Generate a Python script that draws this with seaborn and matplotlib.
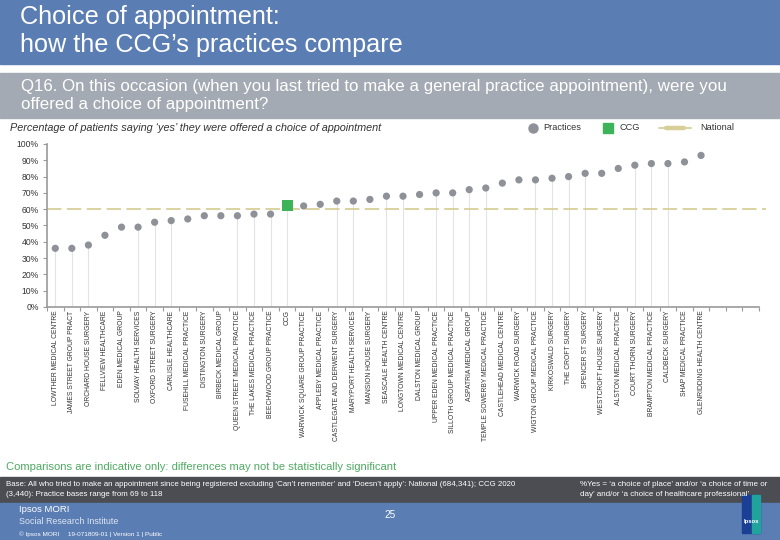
import numpy as np
import pandas as pd
import matplotlib
matplotlib.use("Agg")
import matplotlib.pyplot as plt
from matplotlib.lines import Line2D
from matplotlib.patches import Rectangle
import seaborn as sns

# ---------------- data ----------------
names = [
    "LOWTHER MEDICAL CENTRE", "JAMES STREET GROUP PRACT", "ORCHARD HOUSE SURGERY",
    "FELLVIEW HEALTHCARE", "EDEN MEDICAL GROUP", "SOLWAY HEALTH SERVICES",
    "OXFORD STREET SURGERY", "CARLISLE HEALTHCARE", "FUSEHILL MEDICAL PRACTICE",
    "DISTINGTON SURGERY", "BIRBECK MEDICAL GROUP", "QUEEN STREET MEDICAL PRACTICE",
    "THE LAKES MEDICAL PRACTICE", "BEECHWOOD GROUP PRACTICE", "CCG",
    "WARWICK SQUARE GROUP PRACTICE", "APPLEBY MEDICAL PRACTICE",
    "CASTLEGATE AND DERWENT SURGERY", "MARYPORT HEALTH SERVICES",
    "MANSION HOUSE SURGERY", "SEASCALE HEALTH CENTRE", "LONGTOWN MEDICAL CENTRE",
    "DALSTON MEDICAL GROUP", "UPPER EDEN MEDICAL PRACTICE",
    "SILLOTH GROUP MEDICAL PRACTICE", "ASPATRIA MEDICAL GROUP",
    "TEMPLE SOWERBY MEDICAL PRACTICE", "CASTLEHEAD MEDICAL CENTRE",
    "WARWICK ROAD SURGERY", "WIGTON GROUP MEDICAL PRACTICE", "KIRKOSWALD SURGERY",
    "THE CROFT SURGERY", "SPENCER ST SURGERY", "WESTCROFT HOUSE SURGERY",
    "ALSTON MEDICAL PRACTICE", "COURT THORN SURGERY", "BRAMPTON MEDICAL PRACTICE",
    "CALDBECK SURGERY", "SHAP MEDICAL PRACTICE", "GLENRIDDING HEALTH CENTRE",
]
values = [36, 36, 38, 44, 49, 49, 52, 53, 54, 56, 56, 56, 57, 57, 62,
          62, 63, 65, 65, 66, 68, 68, 69, 70, 70, 72, 73, 76, 78, 78, 79,
          80, 82, 82, 85, 87, 88, 88, 89, 93]
ccg_label = "CCG"
national = 60
empty_slots = 3
show_stem = [1, 1, 1, 0, 0, 1, 1, 1, 0, 0, 0, 1, 1, 1, 1,
             0, 0, 1, 1, 0, 1, 1, 0, 1, 1, 1, 1, 0, 0, 1, 1,
             1, 1, 0, 0, 1, 1, 1, 0, 0]
y_ticks = [0, 10, 20, 30, 40, 50, 60, 70, 80, 90, 100]
legend_labels = ["Practices", "CCG", "National"]

df = pd.DataFrame({"name": names, "value": values})
df["pos"] = np.arange(len(df))
df["group"] = np.where(df["name"] == ccg_label, "CCG", "Practices")

# ---------------- styling ----------------
sns.set_theme(style="white")
plt.rcParams["font.family"] = ["Liberation Sans", "DejaVu Sans"]

BLUE = "#5a7db4"
GREYBAND = "#a4aab4"
DARKBAND = "#4b4d52"
PT = "#8e9197"
GREEN = "#3db35a"
NAT = "#d8cf98"
TXT = "#333333"

fig = plt.figure(figsize=(7.8, 5.4), dpi=100)
W, H = 780, 540

def fx(px):
    return px / W

def fy(py):
    return 1 - py / H

# header bands
fig.patches.append(Rectangle((0, fy(64)), 1, 64 / H, transform=fig.transFigure,
                             color=BLUE, zorder=0))
fig.patches.append(Rectangle((0, fy(118)), 1, 45 / H, transform=fig.transFigure,
                             color=GREYBAND, zorder=0))
fig.text(fx(20), fy(17), "Choice of appointment:", color="white", fontsize=18.2,
         va="center", ha="left")
fig.text(fx(20), fy(45), "how the CCG\u2019s practices compare", color="white",
         fontsize=18.2, va="center", ha="left")
fig.text(fx(21), fy(87), "Q16. On this occasion (when you last tried to make a general "
         "practice appointment), were you", color="white", fontsize=12.2,
         va="center", ha="left")
fig.text(fx(21), fy(105), "offered a choice of appointment?", color="white",
         fontsize=12.2, va="center", ha="left")
fig.text(fx(10), fy(128), "Percentage of patients saying \u2018yes\u2019 they were offered "
         "a choice of appointment", color=TXT, fontsize=7.8, style="italic",
         va="center", ha="left")

# ---------------- plot ----------------
ax = fig.add_axes([fx(47), fy(307), fx(759) - fx(47), (307 - 144) / H])
ax.set_facecolor("none")

stems = df[np.array(show_stem, dtype=bool)]
ax.vlines(stems["pos"], 0, stems["value"], color="#e3e3e3", lw=0.8, zorder=1)
ax.axhline(national, color=NAT, lw=1.3, ls=(0, (8, 3)), zorder=2, clip_on=False,
           xmax=1.01)

sns.scatterplot(data=df, x="pos", y="value", hue="group", style="group",
                size="group",
                palette={"Practices": PT, "CCG": GREEN},
                markers={"Practices": "o", "CCG": "s"},
                sizes={"Practices": 27, "CCG": 62},
                linewidth=0, legend=False, ax=ax, zorder=3)

ax.set_xlim(-0.5, len(df) - 0.5 + empty_slots)
ax.set_ylim(0, 100)
ax.set_yticks(y_ticks)
ax.set_yticklabels([f"{v}%" for v in y_ticks], fontsize=6.2, color=TXT)
ax.set_xticks(df["pos"])
ax.set_xticklabels(df["name"], rotation=90, fontsize=4.9, color=TXT,
                   va="top", ha="center")
ax.set_xticks(np.arange(-0.5, len(df) + empty_slots, 1), minor=True)
ax.tick_params(axis="x", which="major", length=0, pad=2.5)
ax.tick_params(axis="x", which="minor", length=3, width=0.8, color="#9a9a9a",
               direction="out", bottom=True)
ax.tick_params(axis="y", length=3, width=0.8, color="#9a9a9a", direction="out",
               left=True, pad=3)
ax.set_xlabel("")
ax.set_ylabel("")
for s in ["top", "right"]:
    ax.spines[s].set_visible(False)
for s in ["left", "bottom"]:
    ax.spines[s].set_color("#9a9a9a")
    ax.spines[s].set_linewidth(1.2)
ax.grid(False)

# legend (placed by hand)
ly = fy(128)
fig.add_artist(Line2D([fx(533)], [ly], marker="o", ls="", color=PT, markersize=6.5,
                      transform=fig.transFigure))
fig.text(fx(543), ly, legend_labels[0], color=TXT, fontsize=6.6, va="center")
fig.add_artist(Line2D([fx(608)], [ly], marker="s", ls="", color=GREEN, markersize=6.5,
                      transform=fig.transFigure))
fig.text(fx(620), ly, legend_labels[1], color=TXT, fontsize=6.6, va="center")
fig.add_artist(Line2D([fx(659), fx(691)], [ly, ly], color=NAT, lw=1.3,
                      transform=fig.transFigure))
fig.add_artist(Line2D([fx(666), fx(684)], [ly, ly], color=NAT, lw=3.2,
                      transform=fig.transFigure))
fig.text(fx(700), ly, legend_labels[2], color=TXT, fontsize=6.6, va="center")

# ---------------- footer ----------------
fig.text(fx(6), fy(467), "Comparisons are indicative only: differences may not be "
         "statistically significant", color="#4faa62", fontsize=8.1,
         va="center", ha="left")
fig.patches.append(Rectangle((0, fy(503)), 1, 26 / H, transform=fig.transFigure,
                             color=DARKBAND, zorder=0))
fig.patches.append(Rectangle((0, 0), 1, 37 / H, transform=fig.transFigure,
                             color=BLUE, zorder=0))
fig.text(fx(6), fy(484), "Base: All who tried to make an appointment since being registered "
         "excluding \u2018Can\u2019t remember\u2019 and \u2018Doesn\u2019t apply\u2019: "
         "National (684,341); CCG 2020", color="white", fontsize=5.7,
         va="center", ha="left")
fig.text(fx(6), fy(495), "(3,440): Practice bases range from 69 to 118", color="white",
         fontsize=5.7, va="center", ha="left")
fig.text(fx(580), fy(484), "%Yes = \u2018a choice of place\u2019 and/or \u2018a choice of "
         "time or", color="white", fontsize=5.8, va="center", ha="left")
fig.text(fx(580), fy(495), "day\u2019 and/or \u2018a choice of healthcare professional\u2019",
         color="white", fontsize=5.8, va="center", ha="left")
fig.text(fx(19), fy(510), "Ipsos MORI", color="white", fontsize=6.8,
         va="center", ha="left")
fig.text(fx(19), fy(522), "Social Research Institute", color="#dfe6f1", fontsize=6.4,
         va="center", ha="left")
fig.text(fx(19), fy(534), "\u00a9 Ipsos MORI     19-071809-01 | Version 1 | Public",
         color="white", fontsize=4.6, va="center", ha="left")
fig.text(fx(390), fy(515), "25", color="white", fontsize=7.2, va="center", ha="center")
fig.patches.append(Rectangle((fx(742), fy(533)), 18 / W, 38 / H,
                             transform=fig.transFigure, color="#1b3f94", zorder=1))
fig.patches.append(Rectangle((fx(752), fy(533)), 8 / W, 38 / H,
                             transform=fig.transFigure, color="#1fa39a", zorder=1))
fig.text(fx(751), fy(522), "Ipsos", color="white", fontsize=4.2, weight="bold",
         va="center", ha="center")

fig.savefig("out.png", dpi=100)
